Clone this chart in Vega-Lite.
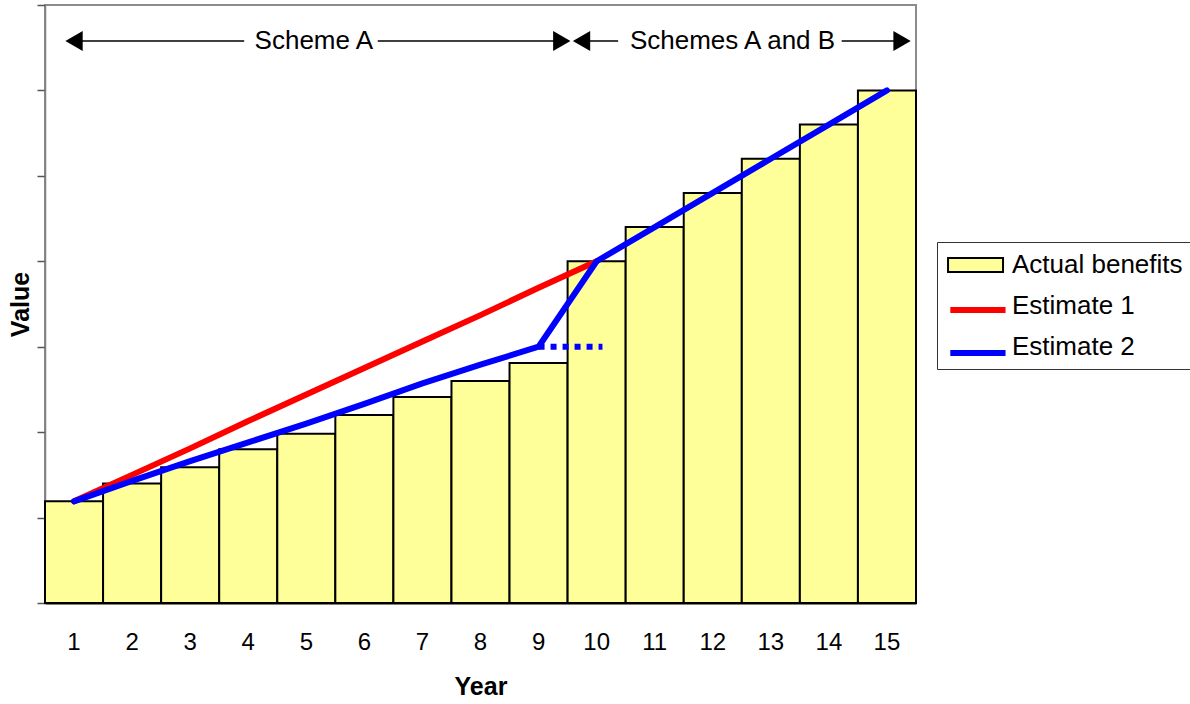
{
  "$schema": "https://vega.github.io/schema/vega-lite/v6.json",
  "width": 871,
  "height": 598,
  "autosize": "none",
  "padding": {"left": 45, "top": 5, "right": 274, "bottom": 101},
  "background": "white",
  "config": {
    "font": "Liberation Sans",
    "view": {"stroke": "#8c8c8c", "strokeWidth": 2},
    "axis": {"grid": false, "labelFont": "Liberation Sans", "titleFont": "Liberation Sans", "labelColor": "#000", "titleColor": "#000"},
    "axisY": {"labels": false, "tickSize": 8, "tickColor": "#555", "tickWidth": 1.5, "domainColor": "#808080", "domainWidth": 1.5, "titleFontSize": 25, "titleFontWeight": "bold", "titlePadding": 3, "tickCount": 7},
    "axisX": {"ticks": false, "labelFontSize": 24, "labelPadding": 27, "labelAngle": 0, "domainColor": "#000", "domainWidth": 2, "titleFontSize": 25, "titleFontWeight": "bold", "titlePadding": 20},
    "legend": {"labelFontSize": 26, "labelFont": "Liberation Sans", "labelColor": "#000", "padding": 9, "symbolSize": 676, "labelOffset": 38, "rowPadding": 14, "labelLimit": 300, "orient": "none", "legendX": 892, "legendY": 237}
  },
  "datasets": {
    "bars": [
      {"Year": 1, "Benefit": 1.19, "Series": "Actual benefits"},
      {"Year": 2, "Benefit": 1.40, "Series": "Actual benefits"},
      {"Year": 3, "Benefit": 1.59, "Series": "Actual benefits"},
      {"Year": 4, "Benefit": 1.80, "Series": "Actual benefits"},
      {"Year": 5, "Benefit": 1.98, "Series": "Actual benefits"},
      {"Year": 6, "Benefit": 2.20, "Series": "Actual benefits"},
      {"Year": 7, "Benefit": 2.41, "Series": "Actual benefits"},
      {"Year": 8, "Benefit": 2.60, "Series": "Actual benefits"},
      {"Year": 9, "Benefit": 2.81, "Series": "Actual benefits"},
      {"Year": 10, "Benefit": 4.00, "Series": "Actual benefits"},
      {"Year": 11, "Benefit": 4.40, "Series": "Actual benefits"},
      {"Year": 12, "Benefit": 4.80, "Series": "Actual benefits"},
      {"Year": 13, "Benefit": 5.20, "Series": "Actual benefits"},
      {"Year": 14, "Benefit": 5.60, "Series": "Actual benefits"},
      {"Year": 15, "Benefit": 6.00, "Series": "Actual benefits"}
    ],
    "estimates": [
      {"Year": 1, "Benefit": 1.19, "Estimate": "Estimate 1"},
      {"Year": 2, "Benefit": 1.50, "Estimate": "Estimate 1"},
      {"Year": 3, "Benefit": 1.81, "Estimate": "Estimate 1"},
      {"Year": 4, "Benefit": 2.13, "Estimate": "Estimate 1"},
      {"Year": 5, "Benefit": 2.44, "Estimate": "Estimate 1"},
      {"Year": 6, "Benefit": 2.75, "Estimate": "Estimate 1"},
      {"Year": 7, "Benefit": 3.06, "Estimate": "Estimate 1"},
      {"Year": 8, "Benefit": 3.37, "Estimate": "Estimate 1"},
      {"Year": 9, "Benefit": 3.69, "Estimate": "Estimate 1"},
      {"Year": 10, "Benefit": 4.00, "Estimate": "Estimate 1"},
      {"Year": 1, "Benefit": 1.19, "Estimate": "Estimate 2"},
      {"Year": 2, "Benefit": 1.43, "Estimate": "Estimate 2"},
      {"Year": 3, "Benefit": 1.66, "Estimate": "Estimate 2"},
      {"Year": 4, "Benefit": 1.88, "Estimate": "Estimate 2"},
      {"Year": 5, "Benefit": 2.10, "Estimate": "Estimate 2"},
      {"Year": 6, "Benefit": 2.33, "Estimate": "Estimate 2"},
      {"Year": 7, "Benefit": 2.57, "Estimate": "Estimate 2"},
      {"Year": 8, "Benefit": 2.79, "Estimate": "Estimate 2"},
      {"Year": 9, "Benefit": 3.00, "Estimate": "Estimate 2"},
      {"Year": 10, "Benefit": 4.00, "Estimate": "Estimate 2"},
      {"Year": 11, "Benefit": 4.40, "Estimate": "Estimate 2"},
      {"Year": 12, "Benefit": 4.80, "Estimate": "Estimate 2"},
      {"Year": 13, "Benefit": 5.20, "Estimate": "Estimate 2"},
      {"Year": 14, "Benefit": 5.60, "Estimate": "Estimate 2"},
      {"Year": 15, "Benefit": 6.00, "Estimate": "Estimate 2"}
    ],
    "dotted": [
      {"Year": 9, "Benefit": 3.0},
      {"Year": 10.1, "Benefit": 3.0}
    ],
    "spans": [
      {"From": 1.0, "To": 3.93, "Level": 6.58},
      {"From": 6.23, "To": 9.4, "Level": 6.58},
      {"From": 9.74, "To": 10.37, "Level": 6.58},
      {"From": 14.22, "To": 15.26, "Level": 6.58}
    ],
    "heads": [
      {"At": 1.0, "Level": 6.58, "Direction": "left"},
      {"At": 9.4, "Level": 6.58, "Direction": "right"},
      {"At": 9.74, "Level": 6.58, "Direction": "left"},
      {"At": 15.26, "Level": 6.58, "Direction": "right"}
    ],
    "labels": [
      {"At": 5.13, "Level": 6.58, "Label": "Scheme A"},
      {"At": 12.34, "Level": 6.58, "Label": "Schemes A and B"}
    ]
  },
  "layer": [
    {
      "layer": [
        {
          "data": {"name": "bars"},
          "mark": {"type": "bar", "strokeWidth": 2, "width": {"band": 1}},
          "encoding": {
            "x": {"field": "Year", "type": "ordinal", "scale": {"paddingInner": 0, "paddingOuter": 0}, "title": "Year"},
            "y": {"field": "Benefit", "type": "quantitative", "scale": {"domain": [0, 7], "nice": false, "zero": true}, "title": "Value"},
            "fill": {
              "field": "Series", "type": "nominal",
              "scale": {"domain": ["Actual benefits", "Estimate 1", "Estimate 2"], "range": ["#ffff99", "transparent", "transparent"]},
              "legend": {"title": null, "symbolType": "M-0.92,-0.54H3.31V0.54H-0.92Z", "symbolStrokeWidth": 2, "strokeColor": "#333", "fillColor": "#ffffff"}
            },
            "stroke": {
              "field": "Series", "type": "nominal",
              "scale": {"domain": ["Actual benefits", "Estimate 1", "Estimate 2"], "range": ["#000000", "transparent", "transparent"]},
              "legend": {"title": null, "symbolType": "M-0.92,-0.54H3.31V0.54H-0.92Z", "symbolStrokeWidth": 2, "strokeColor": "#333", "fillColor": "#ffffff"}
            }
          }
        },
        {
          "data": {"name": "estimates"},
          "mark": {"type": "line", "strokeWidth": 6, "strokeCap": "round", "strokeJoin": "round"},
          "encoding": {
            "x": {"field": "Year", "type": "ordinal", "title": "Year"},
            "y": {"field": "Benefit", "type": "quantitative", "title": "Value"},
            "color": {
              "field": "Estimate", "type": "nominal",
              "scale": {"domain": [" ", "Estimate 1", "Estimate 2"], "range": ["transparent", "#ff0000", "#0000ff"]},
              "legend": {"title": null, "symbolType": "M-0.9,0H3.35", "symbolStrokeWidth": 6, "labelExpr": "''", "zindex": 5}
            }
          }
        }
      ]
    },
    {
      "layer": [
        {
          "data": {"name": "dotted"},
          "mark": {"type": "line", "stroke": "#0000ff", "strokeWidth": 6, "strokeDash": [6, 6]},
          "encoding": {
            "x": {"field": "Year", "type": "quantitative", "scale": {"domain": [0.5, 15.5], "nice": false, "zero": false}, "axis": null},
            "y": {"field": "Benefit", "type": "quantitative", "title": "Value"}
          }
        },
        {
          "data": {"name": "spans"},
          "mark": {"type": "rule", "stroke": "#000", "strokeWidth": 1.5},
          "encoding": {
            "x": {"field": "From", "type": "quantitative", "axis": null},
            "x2": {"field": "To"},
            "y": {"field": "Level", "type": "quantitative", "title": "Value"}
          }
        },
        {
          "data": {"name": "heads"},
          "mark": {"type": "point", "filled": true, "size": 400, "opacity": 1, "color": "#000"},
          "encoding": {
            "x": {"field": "At", "type": "quantitative", "axis": null},
            "y": {"field": "Level", "type": "quantitative", "title": "Value"},
            "shape": {"field": "Direction", "type": "nominal", "scale": {"domain": ["left", "right"], "range": ["triangle-left", "triangle-right"]}, "legend": null}
          }
        },
        {
          "data": {"name": "labels"},
          "mark": {"type": "text", "fontSize": 26, "font": "Liberation Sans", "align": "center", "baseline": "middle", "color": "#000"},
          "encoding": {
            "x": {"field": "At", "type": "quantitative", "axis": null},
            "y": {"field": "Level", "type": "quantitative", "title": "Value"},
            "text": {"field": "Label"}
          }
        }
      ]
    }
  ],
  "resolve": {"scale": {"x": "independent"}}
}
